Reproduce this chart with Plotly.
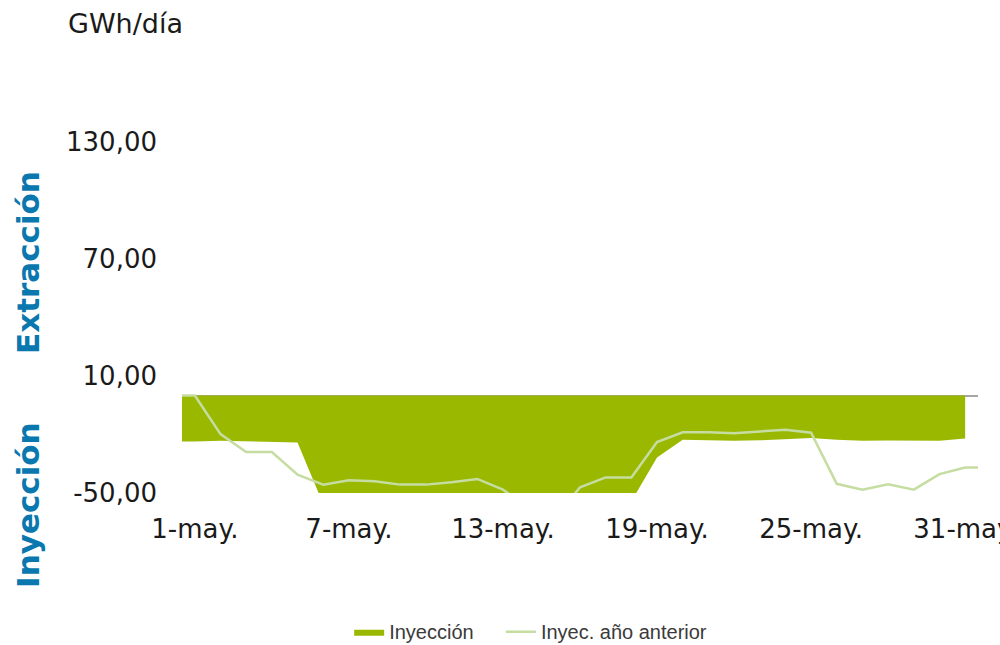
"""Inyección diaria de gas, mayo: área de inyección y línea del año anterior."""
import plotly.graph_objects as go

# días de mayo
dias = list(range(1, 32))

# GWh/día (negativo = inyección); los valores bajo -50 quedan recortados por el eje
inyeccion = [
    -23.6, -23.2, -23.6, -23.9, -24.1, -55.7, -58.0, -61.0, -63.0, -62.0,
    -60.0, -63.0, -65.0, -62.0, -60.0, -58.0, -56.0, -54.3, -31.8, -22.7,
    -22.9, -23.2, -23.0, -22.4, -21.8, -22.7, -23.2, -23.1, -23.1, -23.2,
    -22.0,
]
inyec_anterior = [
    0.0, -19.8, -29.0, -29.0, -40.6, -45.7, -43.5, -44.0, -45.7, -45.7,
    -44.5, -42.8, -48.3, -57.6, -63.0, -47.1, -42.0, -42.0, -23.9, -18.9,
    -18.9, -19.3, -18.4, -17.6, -19.1, -45.3, -48.3, -45.5, -48.3, -40.3,
    -36.9,
]

tick_dias = [1, 7, 13, 19, 25, 31]
tick_dias_txt = ["1-may.", "7-may.", "13-may.", "19-may.", "25-may.", "31-may."]
tick_y = [-50, 10, 70, 130]

VERDE = "#9BB800"
VERDE_CLARO = "#C6DDA2"
AZUL = "#0A78AE"


def fmt_es(v):
    return f"{v:.2f}".replace(".", ",")


# Excel dibuja las series media categoría hacia los bordes
x_area = [dias[0] - 0.5] + dias
y_area = [inyeccion[0]] + inyeccion
x_linea = [dias[0] - 0.5] + dias + [dias[-1] + 0.5]
y_linea = [inyec_anterior[0]] + inyec_anterior + [inyec_anterior[-1]]

fig = go.Figure()
fig.add_trace(
    go.Scatter(
        x=x_area,
        y=y_area,
        name="Inyección" + "\u00a0" * 4,  # separación extra en la leyenda
        mode="lines",
        fill="tozeroy",
        fillcolor=VERDE,
        line={"width": 0, "color": VERDE},
    )
)
fig.add_trace(
    go.Scatter(
        x=x_linea,
        y=y_linea,
        name="Inyec. año anterior",
        mode="lines",
        line={"width": 2.5, "color": VERDE_CLARO},
    )
)

fig.update_layout(
    width=1000,
    height=645,
    margin={"l": 182, "r": 22, "t": 142, "b": 152, "autoexpand": False},
    plot_bgcolor="white",
    paper_bgcolor="white",
    font={"family": "DejaVu Sans", "size": 26, "color": "#1a1a1a"},
    title={
        "text": "GWh/día",
        "x": 0.068,
        "xanchor": "left",
        "y": 0.964,
        "yanchor": "middle",
        "font": {"size": 27, "color": "#1a1a1a"},
    },
    showlegend=True,
    legend={
        "orientation": "h",
        "x": 0.21,
        "xanchor": "left",
        "y": -0.395,
        "yanchor": "middle",
        "font": {"family": "Liberation Sans", "size": 20, "color": "#3a3a3a"},
        "traceorder": "normal",
    },
    xaxis={
        "range": [0.5, 31.5],
        "tickvals": tick_dias,
        "ticktext": tick_dias_txt,
        "showgrid": False,
        "showline": False,
        "zeroline": False,
        "ticks": "",
        "ticklabelstandoff": 18,
        "ticklabeloverflow": "allow",
        "automargin": False,
    },
    yaxis={
        "range": [-50, 130],
        "tickvals": tick_y,
        "ticktext": [fmt_es(v) for v in tick_y],
        "showgrid": False,
        "showline": False,
        "zeroline": True,
        "zerolinecolor": "#A6A6A6",
        "zerolinewidth": 1.5,
        "ticks": "",
        "ticklabelstandoff": 24,
        "automargin": False,
    },
    annotations=[
        {
            "text": "<b>Extracción</b>",
            "xref": "paper",
            "yref": "paper",
            "x": -0.1935,
            "y": 0.658,
            "xanchor": "center",
            "yanchor": "middle",
            "textangle": -90,
            "showarrow": False,
            "font": {"size": 31, "color": AZUL},
        },
        {
            "text": "<b>Inyección</b>",
            "xref": "paper",
            "yref": "paper",
            "x": -0.1935,
            "y": -0.034,
            "xanchor": "center",
            "yanchor": "middle",
            "textangle": -90,
            "showarrow": False,
            "font": {"size": 31, "color": AZUL},
        },
    ],
)

fig.write_html(
    "out.html",
    config={"displayModeBar": False},
    post_script="document.body.style.margin = '0';",
)
